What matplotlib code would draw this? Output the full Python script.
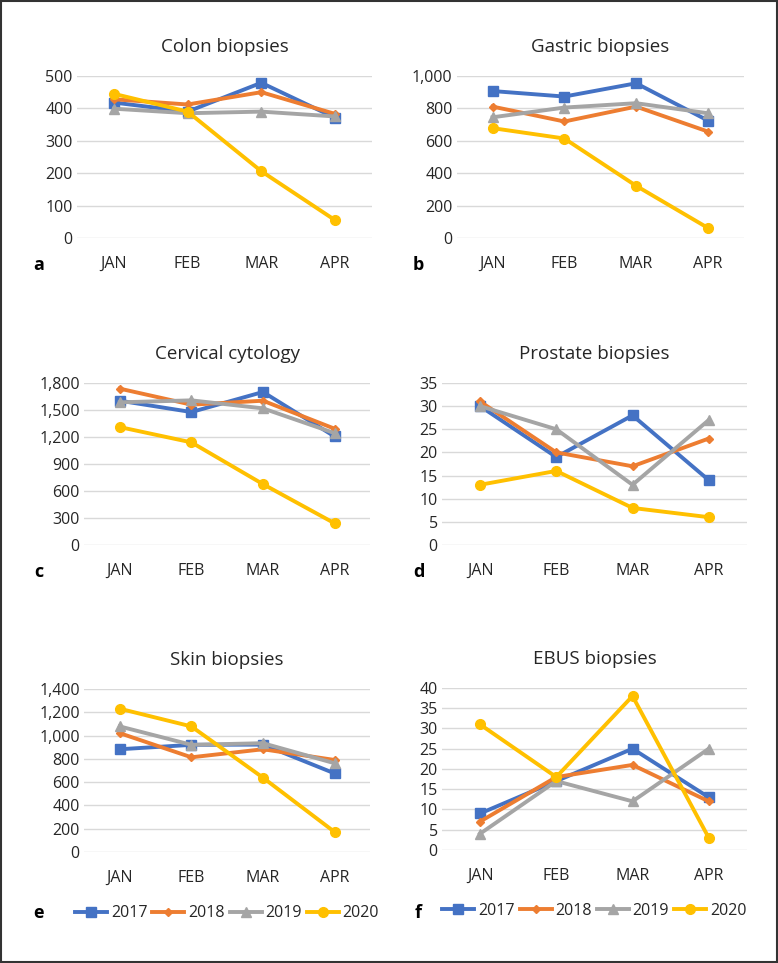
import matplotlib
matplotlib.use("Agg")
import matplotlib.pyplot as plt
from matplotlib.patches import Rectangle
from matplotlib.ticker import FuncFormatter

plt.rcParams['font.family'] = ['Open Sans', 'DejaVu Sans']

months = ['JAN', 'FEB', 'MAR', 'APR']
years = ['2017', '2018', '2019', '2020']

# values, one list per year
colon = [[418, 390, 479, 371], [428, 412, 450, 383], [399, 385, 390, 375], [445, 390, 206, 55]]
gastric = [[907, 873, 955, 725], [811, 719, 811, 657], [745, 805, 832, 770], [678, 614, 322, 62]]
cervical = [[1603, 1477, 1700, 1206], [1737, 1559, 1603, 1292], [1585, 1607, 1518, 1243], [1310, 1140, 676, 241]]
prostate = [[30, 19, 28, 14], [31, 20, 17, 23], [30, 25, 13, 27], [13, 16, 8, 6]]
skin = [[882, 920, 922, 675], [1020, 813, 882, 790], [1078, 920, 934, 762], [1230, 1078, 638, 172]]
ebus = [[9, 17, 25, 13], [7, 18, 21, 12], [4, 17, 12, 25], [31, 18, 38, 3]]

colors = ['#4472C4', '#ED7D31', '#A5A5A5', '#FFC000']
markers = ['s', 'D', '^', 'o']
msizes = [6.5, 4.5, 6.5, 7]

# (title, data, ymax, step, letter, axes rect [left, bottom, width, height])
panels = [
    ('Colon biopsies', colon, 500, 100, 'a', [0.099, 0.7529, 0.379, 0.1682]),
    ('Gastric biopsies', gastric, 1000, 200, 'b', [0.587, 0.7529, 0.369, 0.1682]),
    ('Cervical cytology', cervical, 1800, 300, 'c', [0.108, 0.4341, 0.368, 0.1682]),
    ('Prostate biopsies', prostate, 35, 5, 'd', [0.568, 0.4341, 0.392, 0.1682]),
    ('Skin biopsies', skin, 1400, 200, 'e', [0.108, 0.1153, 0.368, 0.1693]),
    ('EBUS biopsies', ebus, 40, 5, 'f', [0.568, 0.1174, 0.392, 0.1682]),
]

fig = plt.figure(figsize=(7.78, 9.63), dpi=100)

for title, data, ymax, step, letter, rect in panels:
    ax = fig.add_axes(rect)
    x = range(len(months))
    for i, yr in enumerate(years):
        ax.plot(x, data[i], color=colors[i], marker=markers[i], markersize=msizes[i],
                linewidth=2.8, label=yr)
    ax.set_xlim(-0.5, 3.5)
    ax.set_ylim(0, ymax)
    ax.set_yticks(range(0, ymax + 1, step))
    ax.yaxis.set_major_formatter(FuncFormatter(lambda v, p: f'{v:,.0f}'))
    ax.set_xticks(list(x))
    ax.set_xticklabels(months)
    ax.grid(axis='y', color='#D9D9D9', linewidth=1)
    ax.set_axisbelow(True)
    for s in ax.spines.values():
        s.set_visible(False)
    ax.tick_params(axis='both', length=0, labelsize=11.5, colors='#262626')
    ax.tick_params(axis='x', pad=13)
    ax.tick_params(axis='y', pad=3)
    ax.set_title(title, fontsize=13.5, color='#262626', pad=17)
    pos = ax.get_position()
    lx = 0.042 if pos.x0 < 0.5 else 0.530
    ly = pos.y0 - 27 / 963
    if letter in 'ef':
        ly = 1 - 913 / 963
        ax.legend(loc='center', bbox_to_anchor=(0.5, -0.375), ncol=4, frameon=False,
                  fontsize=11.5, handlelength=2.0, handletextpad=0.25, columnspacing=0.3,
                  labelcolor='#262626')
    fig.text(lx + 0.008, ly, letter, fontsize=13, fontweight='bold', ha='center', va='center')

fig.patches.append(Rectangle((0.001, 0.001), 0.998, 0.998, transform=fig.transFigure,
                             fill=False, edgecolor='#333333', linewidth=1.5))

fig.savefig('out.png', dpi=100, facecolor='white')
